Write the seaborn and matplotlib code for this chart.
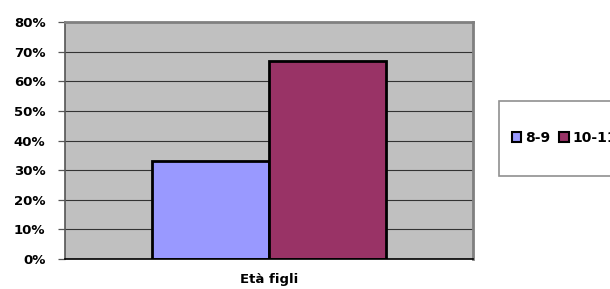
import matplotlib
matplotlib.use("Agg")
import matplotlib.pyplot as plt
import seaborn as sns
import pandas as pd
from matplotlib.patches import Patch, Rectangle

categories = ["Età figli"]
series = ["8-9", "10-11"]
values = [0.33, 0.67]
colors = ["#9999FF", "#993366"]
yticks = [0, 0.1, 0.2, 0.3, 0.4, 0.5, 0.6, 0.7, 0.8]
ytick_labels = ["0%", "10%", "20%", "30%", "40%", "50%", "60%", "70%", "80%"]

df = pd.DataFrame({"cat": categories * len(series), "serie": series, "val": values})

sns.set_theme(style="white")
plt.rcParams["font.family"] = ["DejaVu Sans"]
plt.rcParams["text.color"] = "black"
plt.rcParams["xtick.color"] = "black"
plt.rcParams["ytick.color"] = "black"

W, H = 610, 289
fig = plt.figure(figsize=(W / 100, H / 100), dpi=100)
ax = fig.add_axes([65 / W, 1 - 259 / H, (473 - 65) / W, (259 - 22) / H])
ax.set_facecolor("#C0C0C0")

sns.barplot(data=df, x="cat", y="val", hue="serie", palette=colors,
            width=2 / 3.5, edgecolor="black", linewidth=2, ax=ax,
            saturation=1, legend=False)
ax.set_xlim(-0.5, 0.5)
ax.set_ylim(0, 0.8)
ax.set_yticks(yticks)
ax.set_yticklabels(ytick_labels)
ax.yaxis.grid(True, color="#333333", linewidth=0.8)
ax.set_axisbelow(True)
ax.tick_params(axis="y", length=5, width=0.9, color="#555555", pad=9,
               left=True, labelsize=9.5, labelcolor="black")
ax.tick_params(axis="x", length=0, pad=10, labelsize=9.5, labelcolor="black")
for lab in ax.get_xticklabels() + ax.get_yticklabels():
    lab.set_fontweight("bold")
ax.set_xlabel("")
ax.set_ylabel("")
for s in ["top", "right"]:
    ax.spines[s].set_color("#808080")
    ax.spines[s].set_linewidth(2)
ax.spines["left"].set_color("#555555")
ax.spines["left"].set_linewidth(1.2)
ax.spines["bottom"].set_color("black")
ax.spines["bottom"].set_linewidth(1.2)

# legend box (extends past the right edge, as in the reference)
fig.patches.append(Rectangle((499 / W, 1 - 176 / H), 0.5, 75 / H,
                             transform=fig.transFigure, facecolor="white",
                             edgecolor="#909090", linewidth=1.2, zorder=0))
handles = [Patch(facecolor=c, edgecolor="black", linewidth=1.5) for c in colors]
fig.legend(handles, series, loc="center left", ncol=2, frameon=False,
           bbox_to_anchor=(506 / W, 1 - 138 / H), handlelength=0.7,
           handleheight=0.7, handletextpad=0.3, columnspacing=0.6,
           prop={"weight": "bold", "size": 10}, borderaxespad=0,
           labelcolor="black")

fig.savefig("out.png", dpi=100)
